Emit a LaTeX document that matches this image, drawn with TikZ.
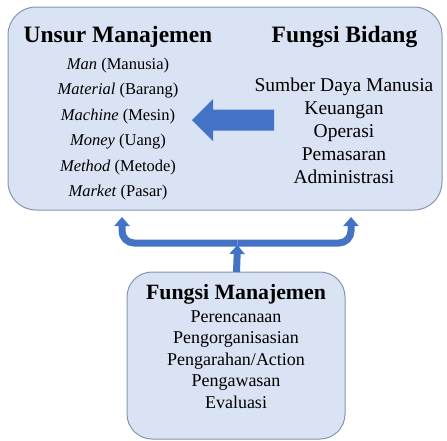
\documentclass[tikz,border=0pt]{standalone}
\usepackage{fontspec}
\setmainfont{Liberation Serif}
\usetikzlibrary{arrows.meta}
\definecolor{boxfill}{HTML}{DAE3F3}
\definecolor{boxline}{HTML}{8496AE}
\definecolor{arrowblue}{HTML}{4472C4}
\begin{document}
\begin{tikzpicture}[x=1pt,y=1pt,
  box/.style={draw=boxline,fill=boxfill,line width=1pt},
  ttl/.style={anchor=base,inner sep=0pt,font=\fontsize{23.5}{26}\selectfont\bfseries},
  ltxt/.style={anchor=base,inner sep=0pt,font=\fontsize{16.5}{19}\selectfont},
  rtxt/.style={anchor=base,inner sep=0pt,font=\fontsize{19.5}{22}\selectfont},
  btxt/.style={anchor=base,inner sep=0pt,font=\fontsize{18}{21}\selectfont},
  btitle/.style={anchor=base,inner sep=0pt,font=\fontsize{21.8}{24}\selectfont\bfseries},
  conn/.style={draw=arrowblue,line width=7pt,rounded corners=12pt,
    -{Triangle[width=15pt,length=9pt]}}]
\useasboundingbox (0,0) rectangle (447,-440);
% boxes
\draw[box,rounded corners=28pt] (8,-7) rectangle (442,-210);
\draw[box,rounded corners=25pt] (127,-272) rectangle (345,-439);
\coordinate (topS) at (225,-210);
\coordinate (botN) at (236.5,-272);
% left column
\node[ttl] (t1) at (118,-42) {Unsur Manajemen};
\node[ltxt] (l1) at (118,-69) {\textit{Man} (Manusia)};
\node[ltxt] (l2) at (118,-94.5) {\textit{Material} (Barang)};
\node[ltxt] (l3) at (118,-120) {\textit{Machine} (Mesin)};
\node[ltxt] (l4) at (118,-145.5) {\textit{Money} (Uang)};
\node[ltxt] (l5) at (118,-171) {\textit{Method} (Metode)};
\node[ltxt] (l6) at (118,-196.5) {\textit{Market} (Pasar)};
% right column
\node[ttl] (t2) at (344.5,-42) {Fungsi Bidang};
\node[rtxt] (r1) at (344,-91.5) {Sumber Daya Manusia};
\node[rtxt] (r2) at (344,-114.5) {Keuangan};
\node[rtxt] (r3) at (344,-137.5) {Operasi};
\node[rtxt] (r4) at (344,-160.5) {Pemasaran};
\node[rtxt] (r5) at (344,-183.5) {Administrasi};
% bottom box text
\node[btitle] (t3) at (236,-299) {Fungsi Manajemen};
\node[btxt] (b1) at (236,-322) {Perencanaan};
\node[btxt] (b2) at (236,-343.6) {Pengorganisasian};
\node[btxt] (b3) at (236,-365.2) {Pengarahan/Action};
\node[btxt] (b4) at (236,-386.8) {Pengawasan};
\node[btxt] (b5) at (236,-408.4) {Evaluasi};
% big left arrow
\fill[arrowblue] (274,-109.5) -- (213,-109.5) -- (213,-99) -- (192,-120) -- (213,-141)
  -- (213,-130.5) -- (274,-130.5) -- cycle;
% bracket arrows
\coordinate (j) at (237.5,-243);
\coordinate (tipL) at (122,-217);
\coordinate (tipR) at (351,-217);
\coordinate (tipM) at (237.5,-245);
\draw[conn] (j) -| (tipL);
\draw[conn] (j) -| (tipR);
\draw[conn,rounded corners=0pt] (botN) -- (tipM);
\end{tikzpicture}
\end{document}
